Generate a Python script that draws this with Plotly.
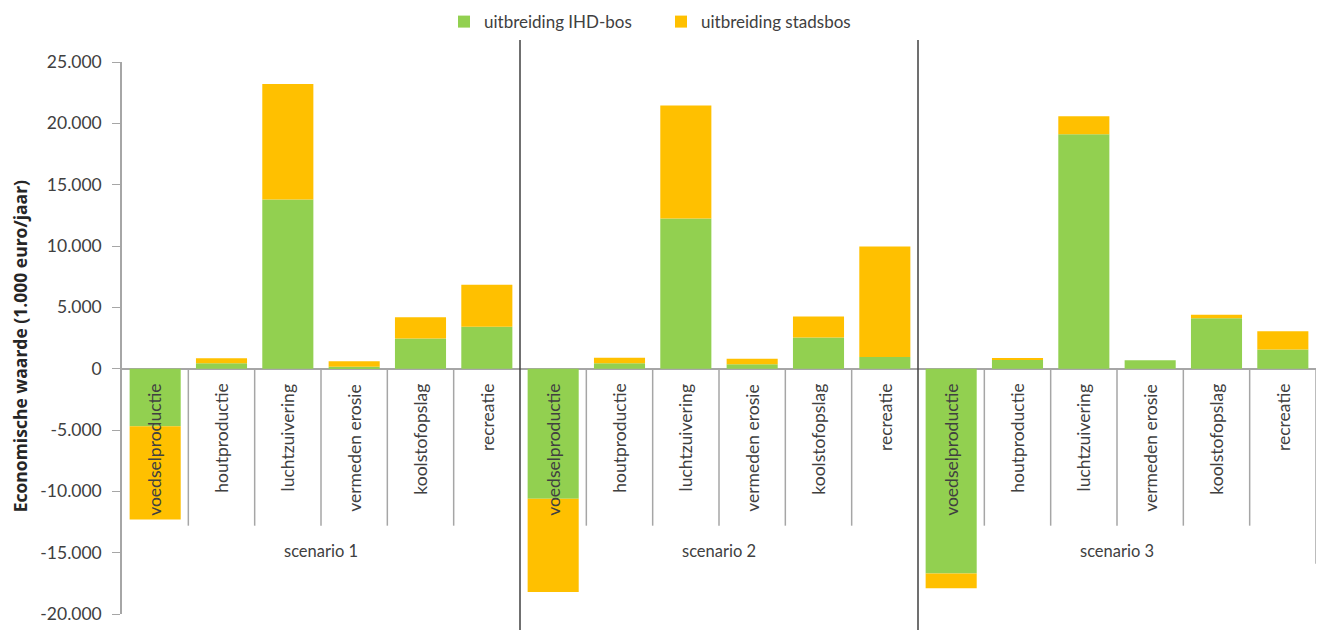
import plotly.graph_objects as go

categories = ["voedselproductie", "houtproductie", "luchtzuivering",
              "vermeden erosie", "koolstofopslag", "recreatie"]
scenarios = ["scenario 1", "scenario 2", "scenario 3"]

# values in 1.000 euro/jaar, per scenario in category order
ihd_bos = [
    -4700, 450, 13800, 150, 2450, 3420,      # scenario 1
    -10600, 450, 12250, 350, 2550, 950,      # scenario 2
    -16700, 750, 19100, 680, 4100, 1570,     # scenario 3
]
stadsbos = [
    -7600, 400, 9400, 450, 1750, 3430,
    -7600, 450, 9200, 450, 1700, 9000,
    -1200, 50, 1480, 0, 300, 1480,
]

ytick_vals = [25000, 20000, 15000, 10000, 5000, 0, -5000, -10000, -15000, -20000]
ytick_text = ["25.000", "20.000", "15.000", "10.000", "5.000", "0",
              "-5.000", "-10.000", "-15.000", "-20.000"]
y_title = "Economische waarde (1.000 euro/jaar)"

GREEN = "#92D050"
ORANGE = "#FFC000"
FONT = "Lato, Open Sans, sans-serif"
TXT = "#404040"

n_cat = len(categories)
xpos = list(range(n_cat * len(scenarios)))
labels = categories * len(scenarios)

fig = go.Figure()
fig.add_trace(go.Bar(x=xpos, y=ihd_bos, name="uitbreiding IHD-bos",
                     marker=dict(color=GREEN, line=dict(width=0)), hoverinfo="skip"))
fig.add_trace(go.Bar(x=xpos, y=stadsbos, name="uitbreiding stadsbos",
                     marker=dict(color=ORANGE, line=dict(width=0)), hoverinfo="skip"))

annotations = []
shapes = []
for i, lab in enumerate(labels):
    annotations.append(dict(x=i, y=0, xref="x", yref="y", text=lab, showarrow=False,
                            textangle=-90, xanchor="center", yanchor="top", yshift=-13,
                            font=dict(family=FONT, size=17.5, color=TXT)))
# category separators (within each scenario)
for i in range(len(xpos)):
    b = i + 0.5
    if (i + 1) % n_cat == 0 and i != len(xpos) - 1:
        continue
    y_end = -12800 if i != len(xpos) - 1 else -15900
    shapes.append(dict(type="line", xref="x", yref="y", x0=b, x1=b, y0=0, y1=y_end,
                       line=dict(color="#A6A6A6", width=1.5)))
# scenario separators
for s in range(1, len(scenarios)):
    b = s * n_cat - 0.5
    shapes.append(dict(type="line", xref="x", yref="paper", x0=b, x1=b, y0=-0.03, y1=1.04,
                       line=dict(color="#404040", width=1.5)))
# scenario labels
for s, name in enumerate(scenarios):
    annotations.append(dict(x=s * n_cat + (n_cat - 1) / 2, y=-14900, xref="x", yref="y",
                            text=name, showarrow=False, xanchor="center", yanchor="middle",
                            font=dict(family=FONT, size=16.5, color=TXT)))
# y-axis title (plot area starts 122 px from the left, is 1194 px wide)
annotations.append(dict(x=(20 - 122) / 1194, y=0.485, xref="paper", yref="paper",
                        text="<b>" + y_title + "</b>", showarrow=False, textangle=-90,
                        xanchor="center", yanchor="middle",
                        font=dict(family="Open Sans, sans-serif", size=17.5, color="#262626")))

fig.update_layout(
    width=1322, height=630,
    margin=dict(l=122, r=6, t=62, b=11),
    paper_bgcolor="white", plot_bgcolor="white",
    barmode="relative", bargap=0.23,
    font=dict(family=FONT, color=TXT, size=14),
    showlegend=True,
    legend=dict(orientation="h", xref="container", yref="container",
                x=0.5, y=0.965, xanchor="center", yanchor="middle",
                font=dict(family=FONT, size=17, color=TXT),
                itemwidth=30, entrywidth=172, entrywidthmode="pixels",
                traceorder="normal"),
    annotations=annotations,
    shapes=shapes,
)
fig.update_xaxes(range=[-0.5, len(xpos) - 0.5], showticklabels=False, showgrid=False,
                 zeroline=False, showline=False, ticks="")
fig.update_yaxes(range=[-20000, 25000], tickvals=ytick_vals, ticktext=ytick_text,
                 showgrid=False, zeroline=True, zerolinecolor="#A6A6A6", zerolinewidth=1.5,
                 showline=True, linecolor="#A6A6A6", linewidth=1.5,
                 ticks="outside", ticklen=8, tickcolor="#A6A6A6", ticklabelstandoff=7,
                 tickfont=dict(family=FONT, size=17.5, color=TXT))

fig.write_html("out.html")
